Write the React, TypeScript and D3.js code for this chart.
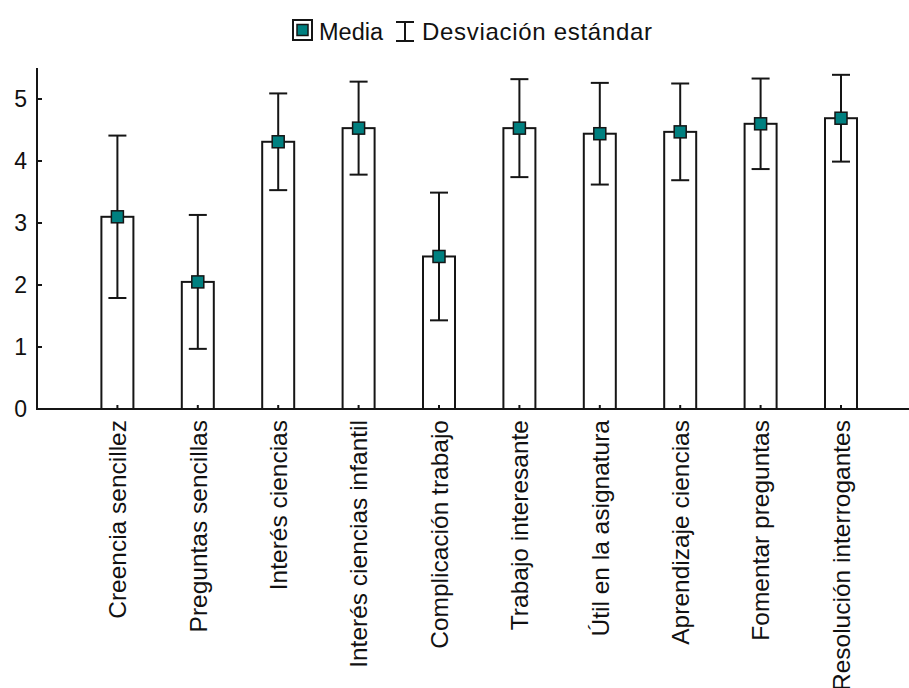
import React from 'react';
import * as d3 from 'd3';

const categories = [
  'Creencia sencillez',
  'Preguntas sencillas',
  'Interés ciencias',
  'Interés ciencias infantil',
  'Complicación trabajo',
  'Trabajo interesante',
  'Útil en la asignatura',
  'Aprendizaje ciencias',
  'Fomentar preguntas',
  'Resolución interrogantes',
];
const means = [3.1, 2.05, 4.31, 4.53, 2.46, 4.53, 4.44, 4.47, 4.6, 4.69];
const sds = [1.31, 1.08, 0.78, 0.75, 1.03, 0.79, 0.82, 0.78, 0.73, 0.7];
const yTicks = [0, 1, 2, 3, 4, 5];

const W = 909;
const H = 688;
const FONT = '"Liberation Sans", Arial, sans-serif';
const INK = '#151515';
const TEAL = '#008080';

export default function App() {
  // posiciones de las barras: una banda vacía antes de la primera
  const x = d3.scaleLinear().domain([-1, 9]).range([37, 841]);
  const y = d3.scaleLinear().domain([0, 5.5]).range([409, 68]);

  const x0 = x(-1);
  const yBase = y(0);
  const barW = 32;
  const capW = 18;
  const mk = 12;

  return (
    <svg
      width={W}
      height={H}
      style={{ position: 'absolute', left: 0, top: 0, background: '#fff' }}
      fontFamily={FONT}
    >
      {/* Leyenda */}
      <g>
        <rect x={293} y={20} width={19} height={20} fill="#fff" stroke={INK} strokeWidth={2} />
        <rect x={297} y={24.5} width={11} height={11} fill={TEAL} stroke={INK} strokeWidth={1.5} />
        <text x={319} y={40} fontSize={23.5} fill="#111">Media</text>
        <line x1={405} x2={405} y1={22} y2={41} stroke={INK} strokeWidth={2} />
        <line x1={396} x2={414} y1={22} y2={22} stroke={INK} strokeWidth={2} />
        <line x1={396} x2={414} y1={41} y2={41} stroke={INK} strokeWidth={2} />
        <text x={422} y={40} fontSize={24} letterSpacing={0.7} fill="#111">Desviación estándar</text>
      </g>

      {/* Barras */}
      {means.map((m, i) => (
        <rect
          key={'b' + i}
          x={x(i) - barW / 2}
          y={y(m)}
          width={barW}
          height={yBase - y(m)}
          fill="#fff"
          stroke={INK}
          strokeWidth={2}
        />
      ))}

      {/* Marcas del eje X */}
      {means.map((_, i) => (
        <line key={'xt' + i} x1={x(i)} x2={x(i)} y1={yBase} y2={yBase - 4} stroke={INK} strokeWidth={2} />
      ))}

      {/* Barras de error */}
      {means.map((m, i) => {
        const cx = x(i);
        const hi = y(m + sds[i]);
        const lo = y(m - sds[i]);
        return (
          <g key={'e' + i} stroke={INK} strokeWidth={2}>
            <line x1={cx} x2={cx} y1={hi} y2={lo} />
            <line x1={cx - capW / 2} x2={cx + capW / 2} y1={hi} y2={hi} />
            <line x1={cx - capW / 2} x2={cx + capW / 2} y1={lo} y2={lo} />
          </g>
        );
      })}

      {/* Medias */}
      {means.map((m, i) => (
        <rect
          key={'m' + i}
          x={x(i) - mk / 2}
          y={y(m) - mk / 2}
          width={mk}
          height={mk}
          fill={TEAL}
          stroke={INK}
          strokeWidth={1.5}
        />
      ))}

      {/* Ejes */}
      <line x1={x0} x2={x0} y1={y(5.5)} y2={yBase + 1} stroke={INK} strokeWidth={2} />
      <line x1={x0} x2={W} y1={yBase} y2={yBase} stroke={INK} strokeWidth={2} />

      {yTicks.map((t) => (
        <g key={'yt' + t}>
          <line x1={x0} x2={x0 + 5} y1={y(t)} y2={y(t)} stroke={INK} strokeWidth={2} />
          <text
            x={27}
            y={y(t)}
            dy="0.36em"
            textAnchor="end"
            fontSize={23}
            fill="#111"
          >
            {t}
          </text>
        </g>
      ))}

      {/* Etiquetas de categorías */}
      {categories.map((c, i) => (
        <text
          key={'l' + i}
          transform={`translate(${x(i)},${yBase + 11}) rotate(-90)`}
          dy="0.36em"
          textAnchor="end"
          fontSize={24.5}
          fill="#111"
        >
          {c}
        </text>
      ))}
    </svg>
  );
}
